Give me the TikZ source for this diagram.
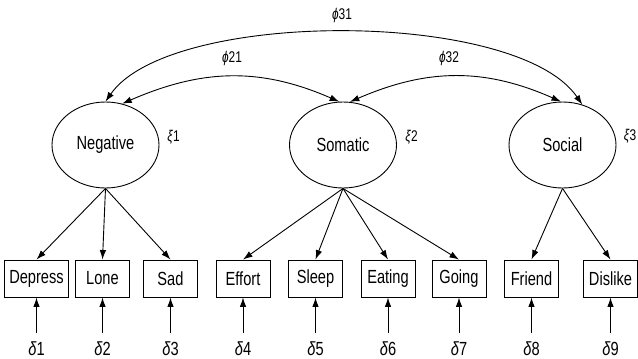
\documentclass[tikz,border=0pt]{standalone}
\usepackage{fontspec}
\setmainfont[FakeStretch=0.77]{Liberation Sans}
\usetikzlibrary{arrows.meta,shapes.geometric}
\begin{document}
\begin{tikzpicture}[x=1pt,y=-1pt,
  >={Latex[length=9.5pt,width=6.5pt]},
  latent/.style={ellipse, draw, line width=0.9pt, minimum width=107pt,
    minimum height=86pt, inner sep=0pt, font=\fontsize{19}{21}\selectfont},
  indicator/.style={rectangle, draw, line width=0.9pt, minimum width=54pt,
    minimum height=37pt, inner xsep=4.5pt, inner ysep=0pt,
    font=\fontsize{19}{21}\selectfont},
  errlab/.style={inner xsep=0pt, inner ysep=8.5pt, anchor=base,
    font=\fontsize{19}{21}\selectfont},
  parlab/.style={inner sep=0pt, font=\fontsize{15.5}{17}\selectfont},
  link/.style={->, line width=0.9pt},
  cov/.style={<->, line width=0.9pt}]
\useasboundingbox (0,0) rectangle (638,359);

% latent factors
\node[latent] (neg) at (105.5,145) {Negative};
\node[latent] (som) at (343,145) {Somatic};
\node[latent] (soc) at (562.5,145) {Social};
\node[parlab] (xi1) at (173.5,137) {\textit{ξ}1};
\node[parlab] (xi2) at (411.5,137) {\textit{ξ}2};
\node[parlab] (xi3) at (630,136) {\textit{ξ}3};

% observed indicators
\node[indicator] (b1) at (36.5,278.5) {Depress};
\node[indicator] (b2) at (102.5,278.5) {Lone};
\node[indicator] (b3) at (170.5,278.5) {Sad};
\node[indicator] (b4) at (243,278.5) {Effort};
\node[indicator] (b5) at (315.5,278.5) {Sleep};
\node[indicator] (b6) at (388,278.5) {Eating};
\node[indicator] (b7) at (459,278.5) {Going};
\node[indicator] (b8) at (531.5,278.5) {Friend};
\node[indicator] (b9) at (610.5,278.5) {Dislike};

% measurement errors
\node[errlab] (e1) at (36.5,355) {\textit{δ}1};
\node[errlab] (e2) at (102.5,355) {\textit{δ}2};
\node[errlab] (e3) at (170.5,355) {\textit{δ}3};
\node[errlab] (e4) at (243,355) {\textit{δ}4};
\node[errlab] (e5) at (315.5,355) {\textit{δ}5};
\node[errlab] (e6) at (388,355) {\textit{δ}6};
\node[errlab] (e7) at (459,355) {\textit{δ}7};
\node[errlab] (e8) at (531.5,355) {\textit{δ}8};
\node[errlab] (e9) at (610.5,355) {\textit{δ}9};

% loadings
\foreach \b in {b1,b2,b3} \draw[link] (neg.south) -- (\b.north);
\foreach \b in {b4,b5,b6,b7} \draw[link] (som.south) -- (\b.north);
\foreach \b in {b8,b9} \draw[link] (soc.south) -- (\b.north);

% error paths
\foreach \i in {1,...,9} \draw[link] (e\i.north) -- (b\i.south);

% factor covariances
\draw[cov] (neg.90) .. controls (170,9) and (517,9) .. (soc.64);
\draw[cov] (neg.68) .. controls (204,68) and (262,68) .. (som.95);
\draw[cov] (som.81) .. controls (428,68) and (485,68) .. (soc.92);
\node[parlab] (p31) at (342,15) {\textit{ϕ}31};
\node[parlab] (p21) at (232,58) {\textit{ϕ}21};
\node[parlab] (p32) at (449,58) {\textit{ϕ}32};
\end{tikzpicture}
\end{document}
